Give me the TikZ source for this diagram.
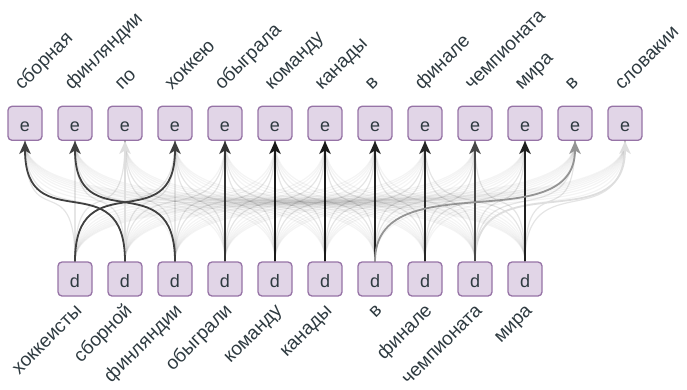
\documentclass[tikz,border=0pt]{standalone}
\usepackage{fontspec}
\setmainfont{Liberation Sans}
\usetikzlibrary{arrows.meta}
\definecolor{boxfill}{HTML}{E1D5E7}
\definecolor{boxline}{HTML}{9673A6}
\definecolor{txt}{HTML}{2E3A40}
\begin{document}
\begin{tikzpicture}[x=1pt,y=-1pt,
  tok/.style={draw=boxline, fill=boxfill, line width=1.3pt, rounded corners=4pt,
    minimum width=34pt, minimum height=34pt, inner sep=0pt, text=txt,
    text height=16.4pt, text depth=0pt, font=\fontsize{18}{18}\selectfont},
  toplab/.style={rotate=45, anchor=base west, inner sep=0pt, text=txt, font=\fontsize{19}{19}\selectfont},
  botlab/.style={rotate=45, anchor=base east, inner sep=0pt, text=txt, font=\fontsize{19}{19}\selectfont},
  faint/.style={line width=1.2pt, draw=black, draw opacity=#1},
  link/.style={line width=1.8pt, draw=#1, -{Stealth[length=13pt, width=11.5pt, inset=3.5pt]}},
  ]
\useasboundingbox (0,0) rectangle (687,389);
% top row
\foreach \w [count=\j] in {сборная,финляндии,по,хоккею,обыграла,команду,канады,в,финале,чемпионата,мира,в,словакии}{
  \node[tok] (e\j) at ({25+50*(\j-1)},123.3) {e};
  \node[toplab] (te\j) at ({25+50*(\j-1)-3},91) {\w};
}
% bottom row
\foreach \w [count=\i] in {хоккеисты,сборной,финляндии,обыграли,команду,канады,в,финале,чемпионата,мира}{
  \node[botlab] (td\i) at ({25+50*\i+8},311.5) {\w};
  \node[tok] (d\i) at ({25+50*\i},279) {d};
}
% faint links
\foreach \i in {1,...,10}{
  \foreach \j in {1,...,13}{
    \pgfmathsetmacro{\op}{abs(\i+1-\j)<3 ? 0.1 : 0.045}
    \draw[faint=\op] (d\i.north) .. controls +(0,-100) and +(0,100) .. (e\j.south);
  }
}
% light arrow heads
\draw[link=black!13] (d2.north) -- (e3.south);
\draw[link=black!13] (d9.north) .. controls +(0,-100) and +(0,100) .. (e13.south);
% strong links
\foreach \i/\j/\c in {1/4/black!75, 2/1/black!75, 3/2/black!75, 4/5/black!80, 5/6/black!90, 6/7/black!90, 7/8/black!87, 8/9/black!85, 9/10/black!72, 10/11/black!88, 7/12/black!42}{
  \draw[link=\c] (d\i.north) .. controls +(0,-100) and +(0,100) .. (e\j.south);
}
\end{tikzpicture}
\end{document}
